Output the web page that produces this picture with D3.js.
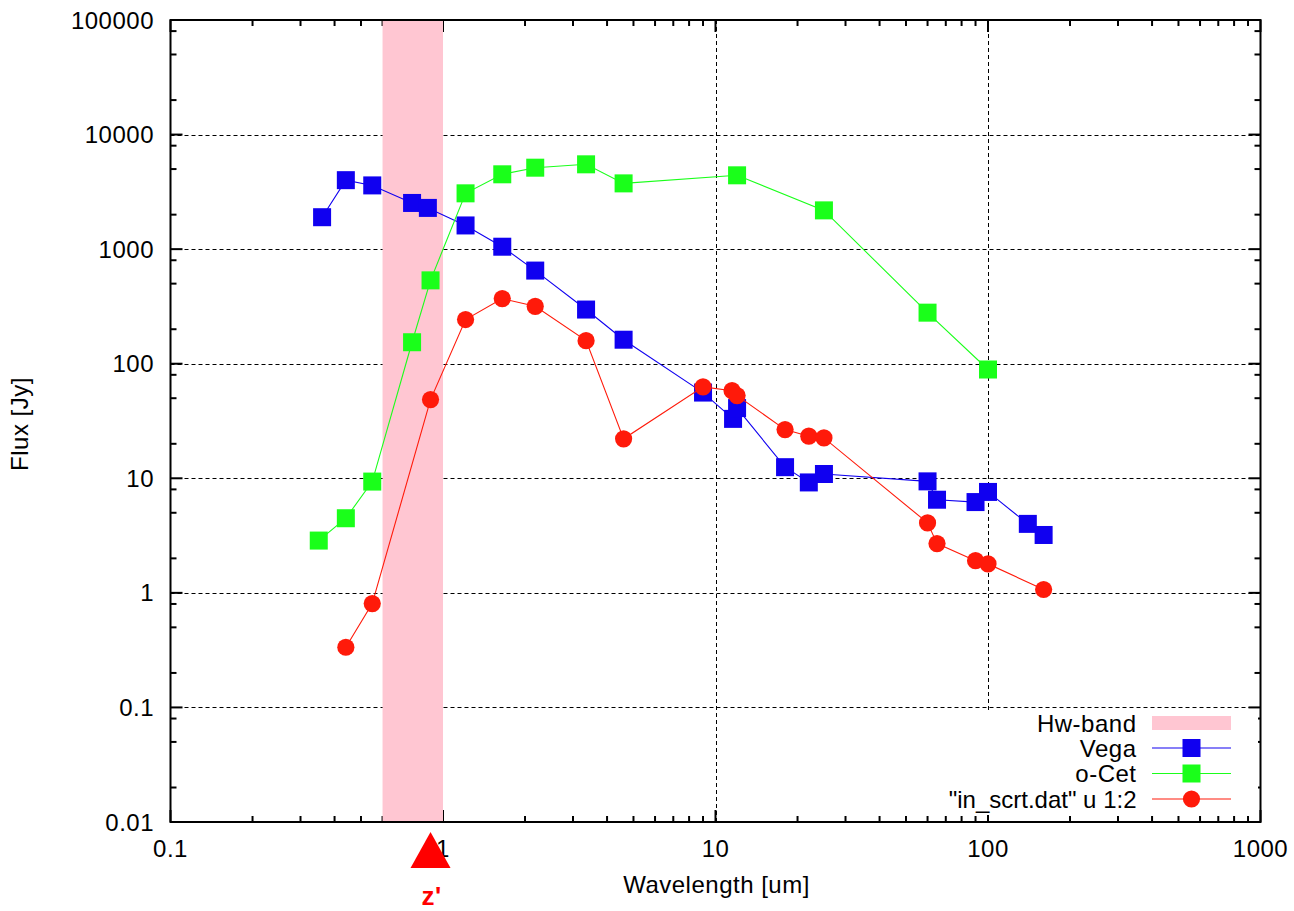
<!DOCTYPE html>
<html>
<head>
<meta charset="utf-8">
<script src="https://cdn.jsdelivr.net/npm/d3@7"></script>
<style>
  html, body { margin: 0; padding: 0; background: #fff; }
  svg { display: block; }
  text { font-family: "Liberation Sans", Arial, sans-serif; fill: #000; letter-spacing: 0.5px; }
</style>
</head>
<body>
<svg id="chart" width="1294" height="911"></svg>
<script>
// Spectral energy distributions (wavelength in um, flux in Jy)
const vegaX = [0.36, 0.44, 0.55, 0.77, 0.88, 1.21, 1.65, 2.18, 3.35, 4.6, 9.0, 11.6, 12.0, 18, 22, 25, 60, 65, 90, 100, 140, 160];
const vegaY = [1900, 4000, 3600, 2530, 2290, 1610, 1050, 650, 297, 162, 56, 33, 41, 12.5, 9.2, 10.9, 9.4, 6.5, 6.2, 7.6, 4.0, 3.2];

const ocetX = [0.35, 0.44, 0.55, 0.77, 0.9, 1.21, 1.65, 2.18, 3.35, 4.6, 12, 25, 60, 100];
const ocetY = [2.86, 4.48, 9.36, 154, 534, 3070, 4500, 5140, 5500, 3750, 4410, 2180, 279, 89];

const scrtX = [0.44, 0.55, 0.9, 1.21, 1.65, 2.18, 3.35, 4.6, 9.0, 11.5, 12, 18, 22, 25, 60, 65, 90, 100, 160];
const scrtY = [0.335, 0.806, 48.6, 243, 370, 317, 159, 22.1, 62.8, 58.2, 52.7, 26.6, 23.3, 22.5, 4.08, 2.69, 1.91, 1.79, 1.07];

// Hw filter band and the z' marker position
const bandRange = [0.6, 1.0];
const zMarkX = 0.9;
const zMarkLabel = "z'";

// Axis ticks
const xTicks = [0.1, 1, 10, 100, 1000];
const xTickLabels = ["0.1", "1", "10", "100", "1000"];
const yTicks = [0.01, 0.1, 1, 10, 100, 1000, 10000, 100000];
const yTickLabels = ["0.01", "0.1", "1", "10", "100", "1000", "10000", "100000"];
const xMinorMult = [2, 3, 4, 5, 6, 7, 8, 9];
const yMinorMult = [2, 5, 8];

const legendLabels = ["Hw-band", "Vega", "o-Cet", "\"in_scrt.dat\" u 1:2"];
const xLabel = "Wavelength [um]";
const yLabel = "Flux [Jy]";

const C = { blue: "#1000f0", green: "#1aff1a", red: "#ff1a0a", band: "#ffc6d2" };
const FS = 24;

const svg = d3.select("#chart");
const L = 170.5, R = 1260.5, T = 20, B = 822;

const x = d3.scaleLog().domain([0.1, 1000]).range([L, R]);
const y = d3.scaleLog().domain([0.01, 100000]).range([B, T]);

// minor tick values
const xMinor = [];
xTicks.slice(0, -1).forEach(d => xMinorMult.forEach(m => xMinor.push(d * m)));
const yMinor = [];
yTicks.slice(0, -1).forEach(d => yMinorMult.forEach(m => yMinor.push(d * m)));

// grid (dotted), skipping the border positions and the band edge
const grid = svg.append("g").attr("stroke", "#000").attr("stroke-width", 1)
  .attr("stroke-dasharray", "4,3").attr("fill", "none");
xTicks.slice(1, -1)
  .filter(v => v < bandRange[0] || v > bandRange[1])
  .forEach(v => {
    grid.append("line").attr("x1", Math.round(x(v)) + 0.5).attr("x2", Math.round(x(v)) + 0.5)
      .attr("y1", T).attr("y2", B);
  });
yTicks.slice(1, -1).forEach(v => {
  grid.append("line").attr("y1", Math.round(y(v)) + 0.5).attr("y2", Math.round(y(v)) + 0.5)
    .attr("x1", L).attr("x2", R);
});

// ticks, mirrored on top and right
const ticks = svg.append("g").attr("stroke", "#000").attr("stroke-width", 2);
function xTick(v, len) {
  ticks.append("line").attr("x1", x(v)).attr("x2", x(v)).attr("y1", B).attr("y2", B - len);
  ticks.append("line").attr("x1", x(v)).attr("x2", x(v)).attr("y1", T).attr("y2", T + len);
}
function yTick(v, len) {
  ticks.append("line").attr("y1", y(v)).attr("y2", y(v)).attr("x1", L).attr("x2", L + len);
  ticks.append("line").attr("y1", y(v)).attr("y2", y(v)).attr("x1", R).attr("x2", R - len);
}
xTicks.forEach(v => xTick(v, 12));
xMinor.forEach(v => xTick(v, 6));
yTicks.forEach(v => yTick(v, 12));
yMinor.forEach(v => yTick(v, 6));

// Hw band
svg.append("rect")
  .attr("x", x(bandRange[0])).attr("y", T)
  .attr("width", x(bandRange[1]) - x(bandRange[0])).attr("height", B - T)
  .attr("fill", C.band);

// border
svg.append("rect").attr("x", L).attr("y", T).attr("width", R - L).attr("height", B - T)
  .attr("fill", "none").attr("stroke", "#000").attr("stroke-width", 2);

// tick labels
svg.append("g").selectAll("text").data(yTicks).join("text")
  .attr("x", 154).attr("y", d => y(d)).attr("dy", "0.36em")
  .attr("text-anchor", "end").attr("font-size", FS)
  .text((d, i) => yTickLabels[i]);
svg.append("g").selectAll("text").data(xTicks).join("text")
  .attr("x", d => x(d)).attr("y", 857)
  .attr("text-anchor", "middle").attr("font-size", FS)
  .text((d, i) => xTickLabels[i]);

// axis titles
svg.append("text").attr("x", (L + R) / 2 + 1).attr("y", 893)
  .attr("text-anchor", "middle").attr("font-size", FS).text(xLabel);
svg.append("text").attr("transform", "translate(28,424) rotate(-90)")
  .attr("text-anchor", "middle").attr("font-size", FS).text(yLabel);

// series
const line = d3.line().x(d => x(d[0])).y(d => y(d[1]));
function drawSeries(xs, ys, color, shape) {
  const pts = xs.map((v, i) => [v, ys[i]]);
  svg.append("path").datum(pts).attr("d", line)
    .attr("fill", "none").attr("stroke", color).attr("stroke-width", 1.1);
  const g = svg.append("g").attr("fill", color);
  if (shape === "square") {
    g.selectAll("rect").data(pts).join("rect")
      .attr("x", d => x(d[0]) - 9).attr("y", d => y(d[1]) - 9)
      .attr("width", 18).attr("height", 18);
  } else {
    g.selectAll("circle").data(pts).join("circle")
      .attr("cx", d => x(d[0])).attr("cy", d => y(d[1])).attr("r", 8.6);
  }
}
drawSeries(vegaX, vegaY, C.blue, "square");
drawSeries(ocetX, ocetY, C.green, "square");
drawSeries(scrtX, scrtY, C.red, "circle");

// legend with opaque background
const lg = svg.append("g");
lg.append("rect").attr("x", 978).attr("y", 711).attr("width", 280).attr("height", 104).attr("fill", "#fff");
const rowY = [723, 748, 773.5, 799];
const sx1 = 1152, sx2 = 1231, sxm = 1191.5;
legendLabels.forEach((t, i) => {
  lg.append("text").attr("x", 1136.5).attr("y", rowY[i]).attr("dy", "0.36em")
    .attr("text-anchor", "end").attr("font-size", FS)
    .style("letter-spacing", i === 3 ? "0px" : null)
    .text(t);
});
lg.append("rect").attr("x", sx1).attr("y", rowY[0] - 7).attr("width", sx2 - sx1).attr("height", 14).attr("fill", C.band);
[[C.blue, "square"], [C.green, "square"], [C.red, "circle"]].forEach(([c, s], i) => {
  const yy = rowY[i + 1];
  lg.append("line").attr("x1", sx1).attr("x2", sx2).attr("y1", yy).attr("y2", yy)
    .attr("stroke", c).attr("stroke-width", 1.1);
  if (s === "square") {
    lg.append("rect").attr("x", sxm - 9).attr("y", yy - 9).attr("width", 18).attr("height", 18).attr("fill", c);
  } else {
    lg.append("circle").attr("cx", sxm).attr("cy", yy).attr("r", 8.6).attr("fill", c);
  }
});

// z' marker below the axis
const zx = x(zMarkX);
svg.append("path")
  .attr("d", `M${zx},832 L${zx + 20},868 L${zx - 20},868 Z`)
  .attr("fill", "#ff0000");
svg.append("text").attr("x", zx + 1).attr("y", 905)
  .attr("text-anchor", "middle").attr("font-size", 26).attr("font-weight", "bold")
  .style("fill", "#ff0000").text(zMarkLabel);
</script>
</body>
</html>
